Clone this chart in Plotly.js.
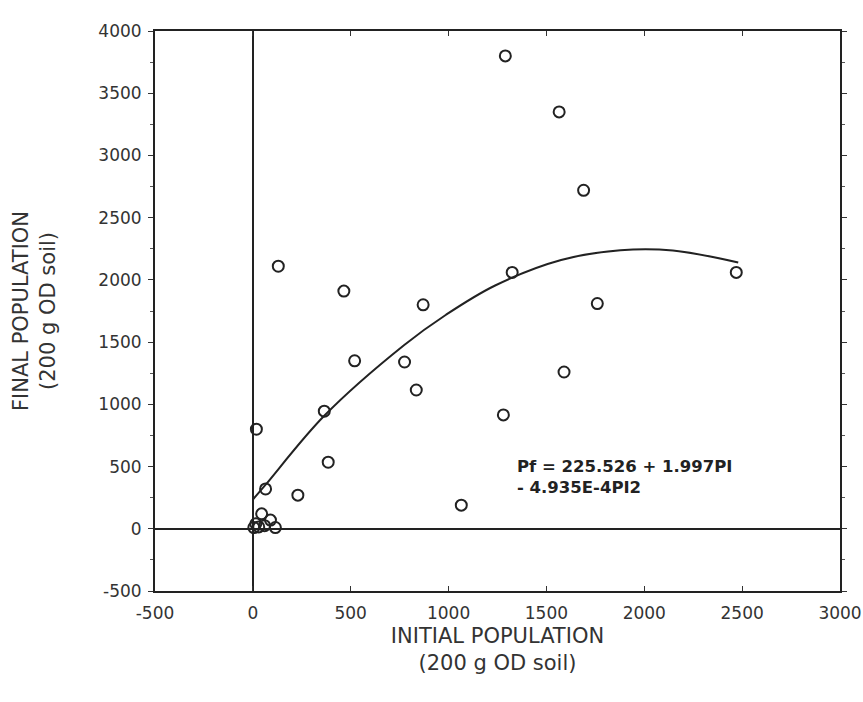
<!DOCTYPE html>
<html>
<head>
<meta charset="utf-8">
<script src="https://cdn.plot.ly/plotly-3.0.1.min.js"></script>
<style>
  html, body { margin: 0; padding: 0; background: #fff; }
  #chart { width: 863px; height: 702px; }
</style>
</head>
<body>
<div id="chart"></div>
<script>
// Observed populations (initial vs final, per 200 g OD soil)
const initialPop = [1290, 1565, 1690, 1325, 2470, 130, 465, 870, 520, 775, 835, 1760, 1590, 1280, 365, 18, 385, 65, 230, 1065,
                    5, 15, 30, 45, 60, 90, 115];
const finalPop   = [3800, 3350, 2720, 2060, 2060, 2110, 1910, 1800, 1350, 1340, 1115, 1810, 1260, 915, 945, 800, 535, 320, 270, 190,
                    10, 40, 15, 120, 25, 70, 10];

// Fitted regression curve
const curveX = [0, 63, 366, 772, 987, 1238, 1575, 1878, 2146, 2480];
const curveY = [235, 350, 910, 1475, 1720, 1955, 2160, 2238, 2236, 2140];

// Tick values / labels
const xTicks = [-500, 0, 500, 1000, 1500, 2000, 2500, 3000];
const xTickText = ["-500", "0", "500", "1000", "1500", "2000", "2500", "3000"];
const yTicks = [-500, 0, 500, 1000, 1500, 2000, 2500, 3000, 3500, 4000];
const yTickText = ["-500", "0", "500", "1000", "1500", "2000", "2500", "3000", "3500", "4000"];

const equationText = "Pf = 225.526 + 1.997PI<br>- 4.935E-4PI2";

const traces = [
  {
    x: curveX, y: curveY, type: 'scatter', mode: 'lines',
    line: { color: '#222', width: 2, shape: 'spline', smoothing: 1.0 },
    hoverinfo: 'skip', showlegend: false
  },
  {
    x: initialPop, y: finalPop, type: 'scatter', mode: 'markers',
    marker: { symbol: 'circle-open', size: 11, color: '#222', line: { width: 2, color: '#222' } },
    showlegend: false
  }
];

const fam = 'DejaVu Sans, Verdana, sans-serif';
const tickFont = { family: fam, size: 17, color: '#333' };
const titleFont = { family: fam, size: 21, color: '#333' };

const layout = {
  width: 863, height: 702,
  margin: { l: 155, r: 23, t: 31, b: 111 },
  paper_bgcolor: '#fff', plot_bgcolor: '#fff',
  font: tickFont,
  showlegend: false,
  xaxis: {
    range: [-500, 3000],
    tickvals: xTicks, ticktext: xTickText,
    ticks: 'inside', ticklen: 5, tickcolor: '#333',
    ticklabelstandoff: 6,
    ticklabeloverflow: 'allow',
    showline: true, linecolor: '#222', linewidth: 2, mirror: 'ticks',
    showgrid: false,
    zeroline: true, zerolinecolor: '#222', zerolinewidth: 2,
    tickfont: tickFont,
    title: { text: 'INITIAL POPULATION<br>(200 g OD soil)', font: titleFont, standoff: 6 }
  },
  yaxis: {
    range: [-500, 4000],
    tickvals: yTicks, ticktext: yTickText,
    ticks: 'outside', ticklen: 5, tickcolor: '#333',
    ticklabelstandoff: 3,
    minor: { ticks: 'outside', ticklen: 3, dtick: 250, tickcolor: '#555' },
    showline: true, linecolor: '#222', linewidth: 2, mirror: 'ticks',
    showgrid: false,
    zeroline: true, zerolinecolor: '#222', zerolinewidth: 2,
    tickfont: tickFont,
    title: { text: 'FINAL POPULATION<br>(200 g OD soil)', font: titleFont, standoff: 37 }
  },
  annotations: [
    {
      x: 1340, y: 416, xref: 'x', yref: 'y',
      text: equationText, showarrow: false,
      xanchor: 'left', yanchor: 'middle', align: 'left',
      font: { family: fam, size: 16.5, color: '#222', weight: 'bold' }
    }
  ]
};

Plotly.newPlot('chart', traces, layout, { displayModeBar: false, staticPlot: true });
</script>
</body>
</html>
